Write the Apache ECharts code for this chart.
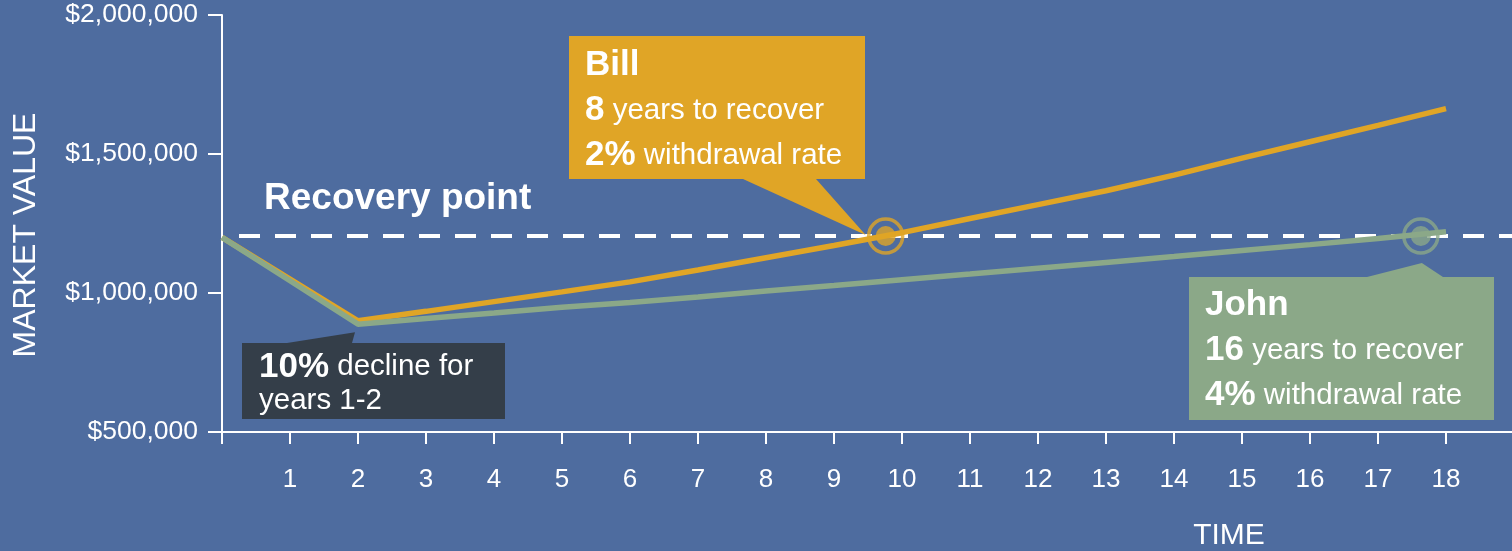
<!DOCTYPE html>
<html>
<head>
<meta charset="utf-8">
<script src="https://cdn.jsdelivr.net/npm/echarts@6/dist/echarts.min.js"></script>
<style>
html,body{margin:0;padding:0;background:#4e6c9f;}
#chart{width:1512px;height:551px;}
</style>
</head>
<body>
<div id="chart"></div>
<script>
// ---- data ----
const years = [0,1,2,3,4,5,6,7,8,9,10,11,12,13,14,15,16,17,18];
const billValues = [1200000,1050000,900000,934000,969000,1004000,1040000,1083000,1127000,1171000,1217000,1268000,1318000,1368000,1424000,1485000,1544000,1603000,1663000];
const johnValues = [1200000,1044000,888000,908000,928000,949000,966000,986000,1007000,1027000,1048000,1068000,1089000,1110000,1131000,1153000,1174000,1196000,1220000];
const yTicks = [500000,1000000,1500000,2000000];
const xRange = [0,19];
const recoveryValue = 1205000;
const recoveryLineStart = 0.25;
const billRecovery = [9.76, 1205000];
const johnRecovery = [17.63, 1205000];
const declinePoint = [2, 888000];

const BILL = '#e0a526', JOHN = '#8ba888', DARK = '#343e49', BG = '#4e6c9f';
const FONT = '"Liberation Sans", Arial, Helvetica, sans-serif';

const chart = echarts.init(document.getElementById('chart'), null, {renderer:'canvas'});

const billData = years.map((y,i)=>[y, billValues[i]]);
const johnData = years.map((y,i)=>[y, johnValues[i]]);

const option = {
  backgroundColor: BG,
  animation: false,
  grid: {left: 222, top: 15, width: 1292, height: 417, containLabel: false, outerBoundsMode: 'none'},
  xAxis: {
    type: 'value', min: xRange[0], max: xRange[1], interval: 1,
    axisLine: {show: true, lineStyle: {color: '#fff', width: 2}},
    axisTick: {show: true, inside: false, length: 12, lineStyle: {color: '#fff', width: 2}},
    splitLine: {show: false},
    axisLabel: {
      color: '#fff', fontSize: 26, fontFamily: FONT, margin: 35,
      formatter: v => (v >= 1 && v <= 18) ? String(v) : ''
    }
  },
  yAxis: {
    type: 'value', min: yTicks[0], max: yTicks[yTicks.length-1], interval: yTicks[1]-yTicks[0],
    axisLine: {show: true, lineStyle: {color: '#fff', width: 2}},
    axisTick: {show: true, inside: false, length: 14, lineStyle: {color: '#fff', width: 2}},
    splitLine: {show: false},
    axisLabel: {
      color: '#fff', fontSize: 26.5, fontFamily: FONT, margin: 24,
      formatter: v => '$' + v.toLocaleString('en-US')
    }
  },
  series: [
    {
      type: 'line', name: 'Recovery', data: [[recoveryLineStart, recoveryValue],[xRange[1], recoveryValue]],
      symbol: 'none', z: 2, silent: true,
      lineStyle: {color: '#fff', width: 4, type: [21,15]}
    },
    {
      type: 'line', name: 'Bill', data: billData, symbol: 'none', z: 3,
      lineStyle: {color: BILL, width: 5.5}
    },
    {
      type: 'line', name: 'John', data: johnData, symbol: 'none', z: 4,
      lineStyle: {color: JOHN, width: 5.5}
    },
    {
      type: 'scatter', data: [billRecovery], symbol: 'circle', symbolSize: 34, z: 5,
      itemStyle: {color: 'rgba(0,0,0,0)', borderColor: BILL, borderWidth: 3.5}
    },
    {
      type: 'scatter', data: [billRecovery], symbol: 'circle', symbolSize: 20, z: 5,
      itemStyle: {color: BILL}
    },
    {
      type: 'scatter', data: [johnRecovery], symbol: 'circle', symbolSize: 34, z: 5,
      itemStyle: {color: 'rgba(0,0,0,0)', borderColor: JOHN, borderWidth: 3.5}
    },
    {
      type: 'scatter', data: [johnRecovery], symbol: 'circle', symbolSize: 20, z: 5,
      itemStyle: {color: JOHN}
    }
  ]
};
chart.setOption(option);

const toPx = p => chart.convertToPixel({gridIndex: 0}, p);
const bP = toPx(billRecovery);
const jP = toPx(johnRecovery);
const dP = toPx(declinePoint);

function richStyles(bold, reg, lh) {
  return {
    b: {fontFamily: FONT, fontWeight: 'bold', fontSize: bold, fill: '#fff', lineHeight: lh, verticalAlign: 'middle'},
    r: {fontFamily: FONT, fontWeight: 'normal', fontSize: reg, fill: '#fff', lineHeight: lh, verticalAlign: 'middle'}
  };
}

const graphic = [
  // Bill callout
  {
    type: 'polygon', z: 50, silent: true,
    shape: {points: [[569,36],[865,36],[865,179],[816,179],[bP[0]-20,bP[1]-1],[743,179],[569,179]]},
    style: {fill: BILL}
  },
  {
    type: 'text', z: 51, x: 585, y: 43, silent: true,
    style: {
      text: '{b|Bill}\n{b|8}{r| years to recover}\n{b|2%}{r| withdrawal rate}',
      rich: richStyles(35, 29.5, 45), verticalAlign: 'top', align: 'left'
    }
  },
  // John callout
  {
    type: 'polygon', z: 50, silent: true,
    shape: {points: [[1189,277],[1367,277],[jP[0]+1,jP[1]+27],[1443,277],[1494,277],[1494,420],[1189,420]]},
    style: {fill: JOHN}
  },
  {
    type: 'text', z: 51, x: 1205, y: 283, silent: true,
    style: {
      text: '{b|John}\n{b|16}{r| years to recover}\n{b|4%}{r| withdrawal rate}',
      rich: richStyles(35, 29.5, 45), verticalAlign: 'top', align: 'left'
    }
  },
  // Decline callout
  {
    type: 'polygon', z: 50, silent: true,
    shape: {points: [[242,343],[287,343],[dP[0]-3,dP[1]+8],[352,343],[505,343],[505,419],[242,419]]},
    style: {fill: DARK}
  },
  {
    type: 'text', z: 51, x: 259, y: 350, silent: true,
    style: {
      text: '{b|10%}{r| decline for}\n{r|years 1-2}',
      rich: richStyles(35, 29.5, 34), verticalAlign: 'top', align: 'left'
    }
  },
  // Recovery point label
  {
    type: 'text', z: 51, x: 264, y: 199, silent: true,
    style: {text: 'Recovery point', fill: '#fff', font: 'bold 37px ' + FONT, verticalAlign: 'middle', align: 'left'}
  },
  // Axis titles
  {
    type: 'text', z: 51, x: 1229, y: 536, silent: true,
    style: {text: 'TIME', fill: '#fff', font: '30px ' + FONT, verticalAlign: 'middle', align: 'center'}
  },
  {
    type: 'text', z: 51, x: 26.5, y: 235, rotation: Math.PI/2, silent: true,
    style: {text: 'MARKET VALUE', fill: '#fff', font: '32px ' + FONT, verticalAlign: 'middle', align: 'center'}
  }
];
chart.setOption({graphic: graphic});
</script>
</body>
</html>
